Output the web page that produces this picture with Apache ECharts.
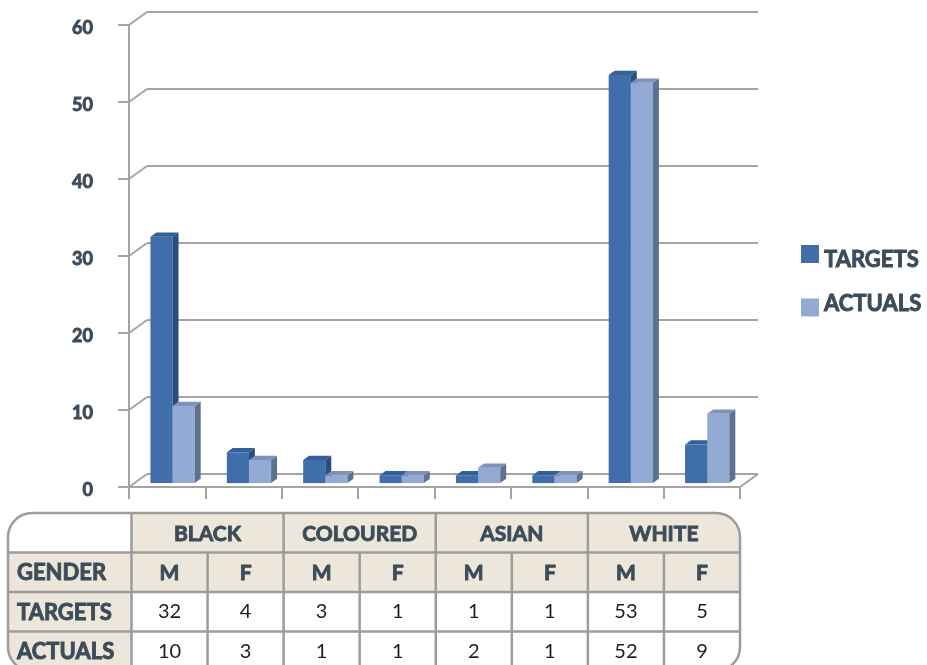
<!DOCTYPE html>
<html>
<head>
<meta charset="utf-8">
<script src="https://cdn.jsdelivr.net/npm/echarts@6/dist/echarts.min.js"></script>
<style>
  html, body { margin: 0; padding: 0; background: #ffffff; }
  #chart { width: 927px; height: 665px; }
</style>
</head>
<body>
<div id="chart"></div>
<script>
// ---- data ----
const groups = ['BLACK', 'COLOURED', 'ASIAN', 'WHITE'];
const genders = ['M', 'F', 'M', 'F', 'M', 'F', 'M', 'F'];
const categories = ['BLACK M', 'BLACK F', 'COLOURED M', 'COLOURED F', 'ASIAN M', 'ASIAN F', 'WHITE M', 'WHITE F'];
const targets = [32, 4, 3, 1, 1, 1, 53, 5];
const actuals = [10, 3, 1, 1, 2, 1, 52, 9];
const yTicks = [0, 10, 20, 30, 40, 50, 60];
const rowLabels = ['GENDER', 'TARGETS', 'ACTUALS'];

// ---- styling ----
const FONT = 'Lato, "Noto Sans", sans-serif';
const SLATE = '#3c4c59';
const EMBOLDEN = 0.9;             // extra stroke to thicken the bold captions
const GRID_GRAY = '#a4a4a4';
const BEIGE = '#ede6da';
const DEPTH = [18, -13];          // offset from the front plane to the back wall
const BAR_FRONT = 0.3;            // bar front face depth (fraction of DEPTH)
const BAR_DEPTH = 0.33;           // bar thickness (fraction of DEPTH)
const targetColors = { front: '#3f6eab', side: '#2a4d7c', top: '#31609a' };
const actualColors = { front: '#93aad5', side: '#5e7191', top: '#7e92bb' };

const chart = echarts.init(document.getElementById('chart'), null, { renderer: 'canvas' });

// 3D bar: front face, right side face and top face
function bar3d(slot, colors) {
  return function (params, api) {
    const i = api.value(0);
    const v = api.value(1);
    const band = api.size([1, 0])[0];
    const w = band * 0.29;
    const base = api.coord([i, 0]);
    const top = api.coord([i, v]);
    const ox = DEPTH[0] * BAR_FRONT, oy = DEPTH[1] * BAR_FRONT;
    const dx = DEPTH[0] * BAR_DEPTH, dy = DEPTH[1] * BAR_DEPTH;
    const x0 = base[0] + slot * w + ox;
    const x1 = x0 + w;
    const yb = base[1] + oy;
    const yt = top[1] + oy;
    return {
      type: 'group',
      children: [
        { type: 'rect', shape: { x: x0, y: yt, width: w, height: yb - yt }, style: { fill: colors.front } },
        { type: 'polygon', shape: { points: [[x1, yb], [x1, yt], [x1 + dx, yt + dy], [x1 + dx, yb + dy]] }, style: { fill: colors.side } },
        { type: 'polygon', shape: { points: [[x0, yt], [x1, yt], [x1 + dx, yt + dy], [x0 + dx, yt + dy]] }, style: { fill: colors.top } }
      ]
    };
  };
}

// diagonal connectors from the front axis to the back wall, plus the floor's right edge
const frameData = yTicks.map(v => [0, v, 0]).concat([[categories.length - 1, 0, 1]]);
function frameItem(params, api) {
  const half = api.size([1, 0])[0] / 2;
  const p = api.coord([api.value(0), api.value(1)]);
  const x = api.value(2) ? p[0] + half : p[0] - half;
  return {
    type: 'line',
    shape: { x1: x, y1: p[1], x2: x + DEPTH[0], y2: p[1] + DEPTH[1] },
    style: { stroke: GRID_GRAY, lineWidth: 2 }
  };
}

// ---- data table under the plot ----
function buildTable() {
  const els = [];
  const left = 8, right = 740, top = 513, rowH = 39.5, rad = 24;
  const firstColR = 131.5;
  const colW = (right - firstColR) / genders.length;
  const bottom = top + rowH * 4;
  const colX = k => firstColR + k * colW;

  els.push({ type: 'rect', shape: { x: left, y: top, width: right - left, height: bottom - top, r: rad }, style: { fill: '#ffffff' } });
  els.push({ type: 'rect', shape: { x: firstColR, y: top, width: right - firstColR, height: rowH, r: [0, rad, 0, 0] }, style: { fill: BEIGE } });
  els.push({ type: 'rect', shape: { x: left, y: top + rowH, width: right - left, height: rowH }, style: { fill: BEIGE } });
  els.push({ type: 'rect', shape: { x: left, y: top + rowH, width: firstColR - left, height: rowH * 3, r: [0, 0, 0, rad] }, style: { fill: BEIGE } });

  const ln = (x1, y1, x2, y2) => ({ type: 'line', shape: { x1, y1, x2, y2 }, style: { stroke: '#9c9c9c', lineWidth: 2.5 } });
  for (let r = 1; r < 4; r++) els.push(ln(left, top + rowH * r, right, top + rowH * r));
  els.push(ln(firstColR, top, firstColR, bottom));
  for (let k = 1; k < genders.length; k++) {
    els.push(ln(colX(k), k % 2 === 0 ? top : top + rowH, colX(k), bottom));
  }
  els.push({ type: 'rect', shape: { x: left, y: top, width: right - left, height: bottom - top, r: rad }, style: { fill: null, stroke: '#9c9c9c', lineWidth: 2.5 } });

  const txt = (text, x, y, opts) => ({
    type: 'text', x, y,
    style: Object.assign({
      text, fontFamily: FONT, fontSize: 21, fontWeight: 'bold', fill: SLATE,
      stroke: SLATE, lineWidth: EMBOLDEN, align: 'center', verticalAlign: 'middle'
    }, opts || {})
  });
  groups.forEach((g, gi) => els.push(txt(g, colX(gi * 2 + 1), top + rowH / 2 + 1)));
  genders.forEach((g, k) => els.push(txt(g, colX(k) + colW / 2, top + rowH * 1.5 + 1)));
  rowLabels.forEach((r, ri) => els.push(txt(r, 17, top + rowH * (ri + 1.5) + 1, { align: 'left', fontSize: 22 })));
  [targets, actuals].forEach((row, ri) => {
    row.forEach((v, k) => els.push(txt(String(v), colX(k) + colW / 2, top + rowH * (ri + 2.5),
      { fontWeight: 'normal', fontSize: 20, fill: '#1e1e1e', stroke: null, lineWidth: 0 })));
  });
  return els;
}

// one legend block per series so each caption sits where it should
function legendFor(name, top, pad) {
  return {
    orient: 'vertical',
    left: 801,
    top: top,
    padding: 0,
    itemWidth: 18,
    itemHeight: 18,
    icon: 'rect',
    data: [name],
    formatter: '{t|{name}}',
    textStyle: {
      fontFamily: FONT, fontSize: 22, fontWeight: 'bold', color: SLATE,
      rich: {
        t: {
          fontFamily: FONT, fontSize: 22, fontWeight: 'bold', color: SLATE,
          textBorderColor: SLATE, textBorderWidth: EMBOLDEN, padding: pad
        }
      }
    }
  };
}

const option = {
  backgroundColor: '#ffffff',
  animation: false,
  grid: [
    { left: 129, right: 187, top: 25, bottom: 178 },   // front plane
    { left: 147, right: 169, top: 12, bottom: 191 }    // back wall
  ],
  legend: [
    legendFor('TARGETS', 245, [12, 0, 0, 0]),
    legendFor('ACTUALS', 292, [0, 0, 8, 0])
  ],
  xAxis: [
    {
      type: 'category', gridIndex: 0, data: categories, boundaryGap: true,
      axisLine: { show: true, lineStyle: { color: GRID_GRAY, width: 2 } },
      axisTick: { show: true, interval: 0, length: 12, lineStyle: { color: GRID_GRAY, width: 2 } },
      axisLabel: { show: false, interval: 0 }
    },
    {
      type: 'category', gridIndex: 1, data: categories, show: false
    }
  ],
  yAxis: [
    {
      type: 'value', gridIndex: 0, min: 0, max: 60, interval: 10,
      axisLine: { show: true, lineStyle: { color: GRID_GRAY, width: 2 } },
      axisTick: { show: true, length: 11, lineStyle: { color: GRID_GRAY, width: 2 } },
      splitLine: { show: false },
      axisLabel: {
        margin: 36, fontFamily: FONT, fontSize: 18, fontWeight: 'bold', color: SLATE,
        textBorderColor: SLATE, textBorderWidth: EMBOLDEN, verticalAlign: 'top', lineHeight: 6
      }
    },
    {
      type: 'value', gridIndex: 1, min: 0, max: 60, interval: 10,
      axisLine: { show: false }, axisTick: { show: false }, axisLabel: { show: false },
      splitLine: { show: true, lineStyle: { color: GRID_GRAY, width: 2 } }
    }
  ],
  series: [
    {
      name: 'frame', type: 'custom', xAxisIndex: 0, yAxisIndex: 0, silent: true, clip: false, z: 1,
      renderItem: frameItem, data: frameData
    },
    {
      name: 'TARGETS', type: 'custom', xAxisIndex: 0, yAxisIndex: 0, clip: false, z: 3,
      itemStyle: { color: targetColors.front },
      renderItem: bar3d(-1, targetColors),
      data: targets.map((v, i) => [i, v])
    },
    {
      name: 'ACTUALS', type: 'custom', xAxisIndex: 0, yAxisIndex: 0, clip: false, z: 4,
      itemStyle: { color: actualColors.front },
      renderItem: bar3d(0, actualColors),
      data: actuals.map((v, i) => [i, v])
    }
  ],
  graphic: buildTable()
};

chart.setOption(option);
</script>
</body>
</html>
